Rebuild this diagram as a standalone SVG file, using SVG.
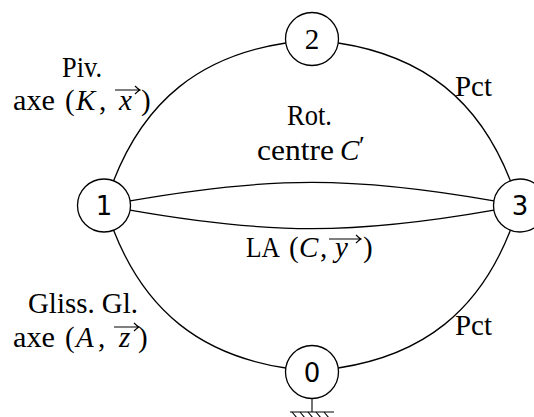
<svg xmlns="http://www.w3.org/2000/svg" width="534" height="417" viewBox="0 0 534 417">
<style>
.e{fill:none;stroke:#000;stroke-width:1.3}
.n{fill:#fff;stroke:#000;stroke-width:1.3}
.t{font-family:"Liberation Serif",serif;font-size:29px;fill:#000}
.i{font-style:italic}
.d{font-family:"DejaVu Sans",sans-serif;font-size:26px;fill:#000;text-anchor:middle}
.ds{font-family:"Liberation Serif",serif;font-size:29px;fill:#000;text-anchor:middle}
.v{fill:none;stroke:#000;stroke-width:1.1}
</style>
<g id="connectors">
<path class="e" d="M113.6,180.8 C145,100.4 200.5,56 285.8,43"/>
<path class="e" d="M338.2,43 C423.5,56 479,100.4 510.4,180.8"/>
<path class="e" d="M113.6,230.2 C145,310.6 200.5,355 285.8,368"/>
<path class="e" d="M338.2,368 C423.5,355 479,310.6 510.4,230.2"/>
<path class="e" d="M130.1,200.9 C270.3,176.2 353.7,176.2 493.9,200.9"/>
<path class="e" d="M130.1,210.1 C270.3,234.8 353.7,234.8 493.9,210.1"/>
</g>
<g id="node1"><circle class="n" cx="104" cy="205.5" r="26.5"/><text class="d" x="104" y="215">1</text></g>
<g id="node2"><circle class="n" cx="312" cy="39" r="26.5"/><text class="ds" x="312" y="49">2</text></g>
<g id="node3"><circle class="n" cx="520" cy="205.5" r="26.5"/><text class="d" x="520" y="215">3</text></g>
<g id="node0"><circle class="n" cx="312" cy="372" r="26.5"/><text class="d" x="312" y="381.5">0</text></g>
<g id="ground" class="v">
<path d="M312,398.5 V412 M290,412 H334"/>
<path d="M292,412 l5,6 M300,412 l5,6 M308,412 l5,6 M316,412 l5,6 M324,412 l5,6"/>
</g>
<g id="label-piv">
<text class="t" x="62" y="77" textLength="40" lengthAdjust="spacingAndGlyphs">Piv.</text>
<text class="t" x="13" y="110" textLength="42" lengthAdjust="spacingAndGlyphs">axe</text>
<text class="t" x="65" y="110">(</text>
<text class="t i" x="76" y="110">K</text>
<text class="t" x="99" y="110">,</text>
<text class="t i" x="119" y="110">x</text>
<text class="t" x="141" y="110">)</text>
<path class="v" d="M115,90 H140 M135,86 Q138,89 140,90 Q138,91 135,94"/>
</g>
<g id="label-rot">
<text class="t" x="287" y="125" textLength="45" lengthAdjust="spacingAndGlyphs">Rot.</text>
<text class="t" x="257" y="160" textLength="77" lengthAdjust="spacingAndGlyphs">centre</text>
<text class="t i" x="340" y="160">C</text>
<text class="t" x="359" y="154" style="font-size:26px">′</text>
</g>
<g id="label-la">
<text class="t" x="246" y="257" textLength="34" lengthAdjust="spacingAndGlyphs">LA</text>
<text class="t" x="289" y="257">(</text>
<text class="t i" x="299" y="257">C</text>
<text class="t" x="320" y="257">,</text>
<text class="t i" x="335" y="257">y</text>
<text class="t" x="363" y="257">)</text>
<path class="v" d="M329,239 H361 M356,235 Q359,238 361,239 Q359,240 356,243"/>
</g>
<g id="label-gliss">
<text class="t" x="28" y="313" textLength="110" lengthAdjust="spacingAndGlyphs">Gliss. Gl.</text>
<text class="t" x="13" y="347" textLength="42" lengthAdjust="spacingAndGlyphs">axe</text>
<text class="t" x="65" y="347">(</text>
<text class="t i" x="76" y="347">A</text>
<text class="t" x="98" y="347">,</text>
<text class="t i" x="119" y="347">z</text>
<text class="t" x="138" y="347">)</text>
<path class="v" d="M114,327 H139 M134,323 Q137,326 139,327 Q137,328 134,331"/>
</g>
<g id="label-pct1"><text class="t" x="455" y="96" textLength="37" lengthAdjust="spacingAndGlyphs">Pct</text></g>
<g id="label-pct2"><text class="t" x="455" y="335" textLength="37" lengthAdjust="spacingAndGlyphs">Pct</text></g>
</svg>
